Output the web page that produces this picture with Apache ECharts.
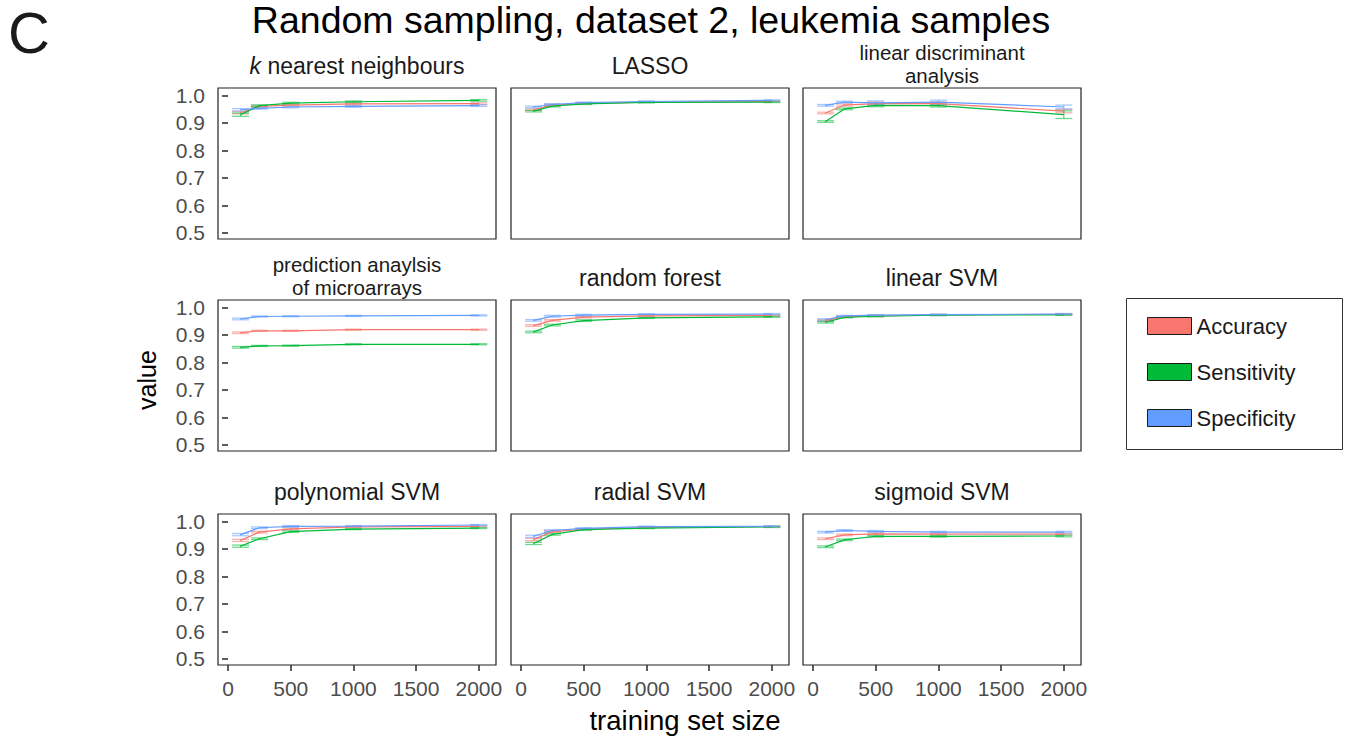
<!DOCTYPE html>
<html>
<head>
<meta charset="utf-8">
<script src="https://cdn.jsdelivr.net/npm/echarts@6/dist/echarts.min.js"></script>
<style>
html,body{margin:0;padding:0;background:#fff;}
#chart{width:1351px;height:736px;}
</style>
</head>
<body>
<div id="chart"></div>
<script>
// ---------------- data ----------------
const methods = [
  'k nearest neighbours', 'LASSO', 'linear discriminant\nanalysis',
  'prediction anaylsis\nof microarrays', 'random forest', 'linear SVM',
  'polynomial SVM', 'radial SVM', 'sigmoid SVM'
];
const trainSizes = [100, 250, 500, 1000, 2000];
const metricNames = ['Accuracy', 'Sensitivity', 'Specificity'];
const xTicks = [0, 500, 1000, 1500, 2000];
const yTicks = [0.5, 0.6, 0.7, 0.8, 0.9, 1.0];

const accuracy = [
  [0.937, 0.960, 0.965, 0.969, 0.970],
  [0.948, 0.965, 0.971, 0.976, 0.978],
  [0.936, 0.965, 0.970, 0.970, 0.943],
  [0.908, 0.915, 0.915, 0.919, 0.919],
  [0.934, 0.953, 0.965, 0.969, 0.971],
  [0.952, 0.966, 0.969, 0.973, 0.975],
  [0.931, 0.961, 0.973, 0.980, 0.982],
  [0.934, 0.963, 0.972, 0.978, 0.981],
  [0.937, 0.951, 0.955, 0.954, 0.954]
];
const sensitivity = [
  [0.930, 0.963, 0.972, 0.977, 0.982],
  [0.943, 0.961, 0.969, 0.975, 0.976],
  [0.905, 0.951, 0.964, 0.963, 0.930],
  [0.855, 0.860, 0.861, 0.866, 0.866],
  [0.911, 0.936, 0.952, 0.962, 0.966],
  [0.946, 0.964, 0.968, 0.972, 0.973],
  [0.910, 0.937, 0.963, 0.972, 0.976],
  [0.920, 0.953, 0.970, 0.976, 0.980],
  [0.908, 0.933, 0.946, 0.946, 0.947]
];
const specificity = [
  [0.948, 0.953, 0.958, 0.960, 0.963],
  [0.958, 0.967, 0.974, 0.978, 0.982],
  [0.964, 0.976, 0.973, 0.976, 0.958],
  [0.958, 0.967, 0.968, 0.969, 0.971],
  [0.953, 0.968, 0.972, 0.975, 0.976],
  [0.956, 0.969, 0.972, 0.974, 0.976],
  [0.952, 0.977, 0.982, 0.983, 0.987],
  [0.946, 0.967, 0.975, 0.981, 0.982],
  [0.961, 0.967, 0.964, 0.961, 0.961]
];
// half-widths of the error bars
const accuracyErr = [
  [0.004, 0.003, 0.003, 0.003, 0.003],
  [0.003, 0.003, 0.002, 0.002, 0.002],
  [0.003, 0.004, 0.006, 0.006, 0.006],
  [0.003, 0.002, 0.002, 0.002, 0.002],
  [0.003, 0.003, 0.003, 0.002, 0.002],
  [0.003, 0.002, 0.002, 0.002, 0.002],
  [0.004, 0.003, 0.003, 0.002, 0.002],
  [0.004, 0.003, 0.002, 0.002, 0.002],
  [0.003, 0.003, 0.003, 0.003, 0.003]
];
const sensitivityErr = [
  [0.006, 0.003, 0.003, 0.003, 0.003],
  [0.003, 0.003, 0.002, 0.002, 0.002],
  [0.003, 0.003, 0.005, 0.005, 0.014],
  [0.003, 0.002, 0.002, 0.002, 0.002],
  [0.003, 0.003, 0.003, 0.002, 0.002],
  [0.003, 0.002, 0.002, 0.002, 0.002],
  [0.004, 0.003, 0.003, 0.002, 0.002],
  [0.004, 0.003, 0.002, 0.002, 0.002],
  [0.003, 0.003, 0.003, 0.003, 0.003]
];
const specificityErr = [
  [0.004, 0.003, 0.003, 0.003, 0.003],
  [0.003, 0.003, 0.002, 0.002, 0.002],
  [0.003, 0.003, 0.007, 0.007, 0.007],
  [0.003, 0.002, 0.002, 0.002, 0.002],
  [0.003, 0.003, 0.003, 0.002, 0.002],
  [0.003, 0.002, 0.002, 0.002, 0.002],
  [0.004, 0.003, 0.003, 0.002, 0.002],
  [0.004, 0.003, 0.002, 0.002, 0.002],
  [0.003, 0.003, 0.003, 0.003, 0.003]
];

// ---------------- styling / layout ----------------
const colors = ['#F8766D', '#00BA38', '#619CFF'];
const errColors = ['rgba(248,118,109,0.55)', 'rgba(0,186,56,0.55)', 'rgba(97,156,255,0.55)'];
const FONT = "'Liberation Sans', Arial, Helvetica, sans-serif";
const colLeft = [218, 511, 803];
const rowTop = [88, 300, 514];
const panelW = 278, panelH = 151;
const X_MIN = -80, X_MAX = 2137;
const Y_MIN = 0.478, Y_MAX = 1.027;

const values = [accuracy, sensitivity, specificity];
const errs = [accuracyErr, sensitivityErr, specificityErr];

const grids = [], xAxes = [], yAxes = [], errSeries = [], lineSeries = [], graphics = [];

methods.forEach((m, i) => {
  const r = Math.floor(i / 3), c = i % 3;
  grids.push({
    left: colLeft[c], top: rowTop[r], width: panelW, height: panelH,
    show: true, borderColor: '#222', borderWidth: 1.2, backgroundColor: '#fff'
  });
  xAxes.push({
    type: 'value', gridIndex: i, min: X_MIN, max: X_MAX,
    axisLine: { show: false },
    splitLine: { show: false },
    axisTick: { show: r === 2, length: 6, lineStyle: { color: '#333', width: 1.6 }, customValues: xTicks },
    axisLabel: { show: r === 2, customValues: xTicks, fontSize: 21, color: '#4D4D4D', fontFamily: FONT, margin: 13,
      formatter: v => String(v) }
  });
  yAxes.push({
    type: 'value', gridIndex: i, min: Y_MIN, max: Y_MAX,
    axisLine: { show: false },
    splitLine: { show: false },
    axisTick: { show: c === 0, length: 6, lineStyle: { color: '#333', width: 1.6 }, customValues: yTicks },
    axisLabel: { show: c === 0, customValues: yTicks, fontSize: 21, color: '#4D4D4D', fontFamily: FONT, margin: 13,
      formatter: v => v.toFixed(1) }
  });

  // strip titles (two-line titles drawn line by line)
  const cx = colLeft[c] + panelW / 2;
  const lines = m.split('\n');
  if (lines.length === 2) {
    lines.forEach((ln, li) => {
      graphics.push({
        type: 'text', x: cx, y: rowTop[r] - 35.5 + li * 23, silent: true,
        style: { text: ln, fill: '#1A1A1A', fontSize: 20.5, fontFamily: FONT, align: 'center', verticalAlign: 'middle' }
      });
    });
  } else {
    const txt = i === 0 ? '{i|k} nearest neighbours' : m;
    graphics.push({
      type: 'text', x: cx, y: rowTop[r] - 22, silent: true,
      style: {
        text: txt, fill: '#1A1A1A', fontSize: 23, fontFamily: FONT,
        align: 'center', verticalAlign: 'middle',
        rich: { i: { fontStyle: 'italic', fontSize: 23, fontFamily: FONT, fill: '#1A1A1A' } }
      }
    });
  }

  metricNames.forEach((name, k) => {
    const pts = trainSizes.map((x, j) => [x, values[k][i][j], errs[k][i][j]]);
    errSeries.push({
      type: 'custom', name: name, xAxisIndex: i, yAxisIndex: i,
      itemStyle: { color: colors[k] },
      data: pts,
      z: 2,
      renderItem: (params, api) => {
        const x = api.value(0), y = api.value(1), e = api.value(2);
        const lo = api.coord([x, y - e]);
        const hi = api.coord([x, y + e]);
        const hw = 8.5;
        const st = { stroke: errColors[k], lineWidth: 1.3 };
        return {
          type: 'group',
          children: [
            { type: 'line', shape: { x1: lo[0], y1: lo[1], x2: hi[0], y2: hi[1] }, style: st },
            { type: 'line', shape: { x1: lo[0] - hw, y1: lo[1], x2: lo[0] + hw, y2: lo[1] }, style: st },
            { type: 'line', shape: { x1: hi[0] - hw, y1: hi[1], x2: hi[0] + hw, y2: hi[1] }, style: st }
          ]
        };
      }
    });
    lineSeries.push({
      type: 'line', name: name, xAxisIndex: i, yAxisIndex: i,
      data: pts.map(p => [p[0], p[1]]),
      showSymbol: false, symbol: 'none', animation: false,
      lineStyle: { color: colors[k], width: 1.2 },
      itemStyle: { color: colors[k] },
      z: 3
    });
  });
});

// main title, panel letter, axis titles, legend frame
graphics.push(
  { type: 'text', x: 651, y: 20, silent: true,
    style: { text: 'Random sampling, dataset 2, leukemia samples', fill: '#000', fontSize: 37.5, fontFamily: FONT, align: 'center', verticalAlign: 'middle' } },
  { type: 'text', x: 8, y: 32, silent: true,
    style: { text: 'C', fill: '#1A1A1A', fontSize: 58, fontFamily: FONT, align: 'left', verticalAlign: 'middle' } },
  { type: 'text', x: 147, y: 380, rotation: Math.PI / 2, silent: true,
    style: { text: 'value', fill: '#000', fontSize: 25, fontFamily: FONT, align: 'center', verticalAlign: 'middle' } },
  { type: 'text', x: 685, y: 720, silent: true,
    style: { text: 'training set size', fill: '#000', fontSize: 27.5, fontFamily: FONT, align: 'center', verticalAlign: 'middle' } },
  { type: 'rect', shape: { x: 1126.5, y: 298.5, width: 216, height: 151 }, silent: true, z: -1,
    style: { fill: '#fff', stroke: '#333', lineWidth: 1 } }
);

const option = {
  animation: false,
  backgroundColor: '#fff',
  grid: grids,
  xAxis: xAxes,
  yAxis: yAxes,
  legend: {
    orient: 'vertical', left: 1142, top: 310,
    icon: 'rect', itemWidth: 44, itemHeight: 17, itemGap: 24,
    selectedMode: false,
    textStyle: { fontSize: 22, color: '#1A1A1A', fontFamily: FONT, padding: [0, 0, 0, 0] },
    data: metricNames.map((n, k) => ({ name: n, itemStyle: { color: colors[k], borderColor: '#1A1A1A', borderWidth: 1 } }))
  },
  graphic: graphics,
  series: errSeries.concat(lineSeries)
};

const chart = echarts.init(document.getElementById('chart'), null, { renderer: 'svg' });
chart.setOption(option);
</script>
</body>
</html>
